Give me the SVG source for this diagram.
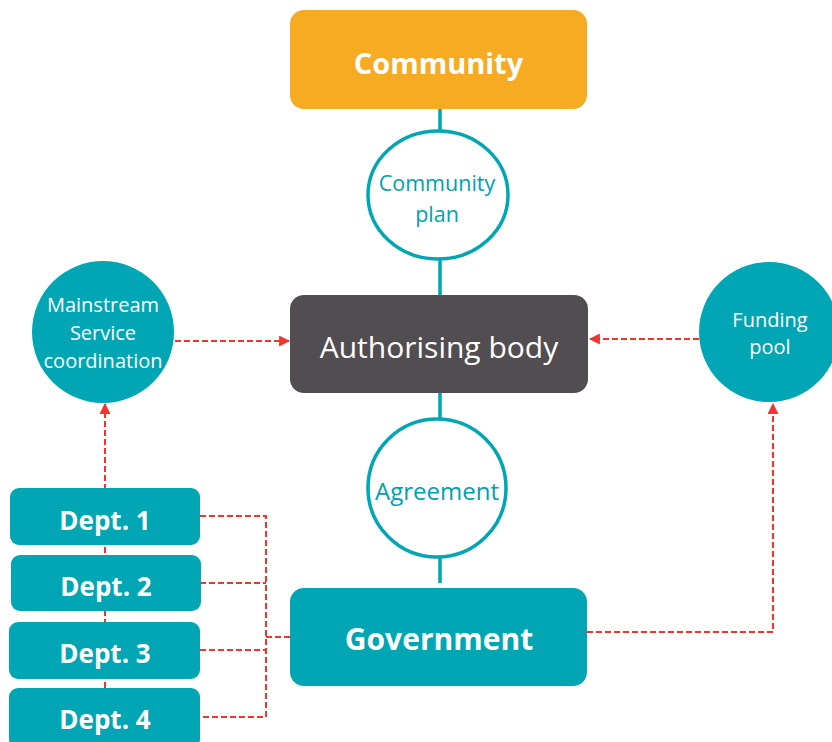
<svg xmlns="http://www.w3.org/2000/svg" width="832" height="742" viewBox="0 0 832 742">
<style>
.teal{fill:#00A6B4}
.ring{fill:#fff;stroke:#00A6B4;stroke-width:3.5}
.solid{stroke:#00A6B4;stroke-width:3.5;fill:none}
.dash{stroke:#F0342E;stroke-width:2;stroke-dasharray:6 3;fill:none}
.wb{font-family:"Open Sans","Liberation Sans",sans-serif;font-weight:bold;fill:#fff;text-anchor:middle}
.wr{font-family:"Open Sans","Liberation Sans",sans-serif;fill:#fff;text-anchor:middle}
.tr{font-family:"Open Sans","Liberation Sans",sans-serif;fill:#00A0AE;text-anchor:middle}
</style>
<defs>
<marker id="ah" viewBox="0 0 10 10" refX="9" refY="5" markerWidth="5.5" markerHeight="5.5" orient="auto">
<path d="M0,0 L10,5 L0,10 z" fill="#F0342E"/>
</marker>
</defs>
<g id="connectors">
<line class="solid" x1="440" y1="109" x2="440" y2="131"/>
<line class="solid" x1="440" y1="259" x2="440" y2="296"/>
<line class="solid" x1="440" y1="392" x2="440" y2="419"/>
<line class="solid" x1="440" y1="556" x2="440" y2="583"/>
<path class="dash" d="M105,742 V404" marker-end="url(#ah)"/>
<path class="dash" d="M175,341 H289" marker-end="url(#ah)"/>
<path class="dash" d="M699,339 H590" marker-end="url(#ah)"/>
<path class="dash" d="M587,632 H773 V404" marker-end="url(#ah)"/>
<path class="dash" d="M200,516 H266 V717 H200 M200,583 H266 M200,650 H266 M266,637 H290"/>
</g>
<g id="community">
<rect x="290" y="10" width="297" height="99" rx="14" fill="#F6AB22"/>
<text class="wb" x="438.5" y="74" font-size="29">Community</text>
</g>
<g id="community-plan">
<ellipse class="ring" cx="438" cy="195" rx="70" ry="64"/>
<text class="tr" x="437" y="191" font-size="21.5">Community</text>
<text class="tr" x="437" y="222" font-size="21.5">plan</text>
</g>
<g id="authorising-body">
<rect x="290" y="295" width="298" height="98" rx="14" fill="#524D50"/>
<text class="wr" x="439" y="358" font-size="30">Authorising body</text>
</g>
<g id="agreement">
<ellipse class="ring" cx="437" cy="488" rx="69" ry="69"/>
<text class="tr" x="437" y="500" font-size="24">Agreement</text>
</g>
<g id="government">
<rect x="290" y="588" width="297" height="98" rx="14" class="teal"/>
<text class="wb" x="439" y="650" font-size="30">Government</text>
</g>
<g id="mainstream">
<circle cx="103" cy="332" r="71" class="teal"/>
<text class="wr" x="103" y="312" font-size="20">Mainstream</text>
<text class="wr" x="103" y="340" font-size="20">Service</text>
<text class="wr" x="103" y="368" font-size="20">coordination</text>
</g>
<g id="funding-pool">
<circle cx="769" cy="332" r="70" class="teal"/>
<text class="wr" x="770" y="327" font-size="20">Funding</text>
<text class="wr" x="770" y="354" font-size="20">pool</text>
</g>
<g id="dept1">
<rect x="10" y="488" width="190" height="57" rx="9" class="teal"/>
<text class="wb" x="105" y="530" font-size="26">Dept. 1</text>
</g>
<g id="dept2">
<rect x="11" y="555" width="190" height="56" rx="9" class="teal"/>
<text class="wb" x="106" y="596" font-size="26">Dept. 2</text>
</g>
<g id="dept3">
<rect x="9" y="622" width="191" height="57" rx="9" class="teal"/>
<text class="wb" x="105" y="663" font-size="26">Dept. 3</text>
</g>
<g id="dept4">
<rect x="9" y="688" width="191" height="60" rx="9" class="teal"/>
<text class="wb" x="105" y="729" font-size="26">Dept. 4</text>
</g>
</svg>
